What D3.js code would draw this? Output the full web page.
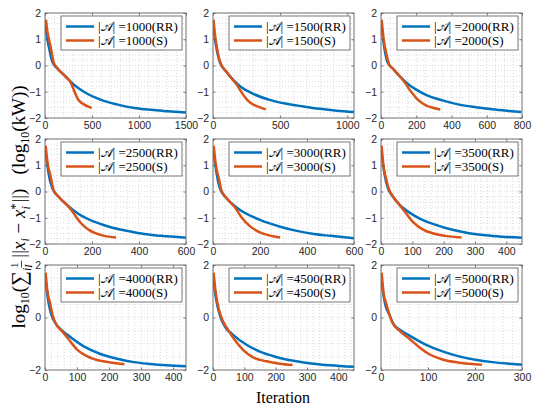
<!DOCTYPE html>
<html><head><meta charset="utf-8">
<script src="https://cdn.jsdelivr.net/npm/d3@7"></script>
<style>
body{margin:0;background:#fff;}
svg{display:block;}
</style></head>
<body>
<svg id="chart" width="550" height="412"></svg>
<script>
// ---- data ----
const sizes = [1000, 1500, 2000, 2500, 3000, 3500, 4000, 4500, 5000];
const xMax = [1500, 1050, 800, 600, 600, 450, 440, 450, 300];
const xTicks = [
  [0, 500, 1000, 1500], [0, 500, 1000], [0, 200, 400, 600, 800],
  [0, 200, 400, 600], [0, 200, 400, 600], [0, 100, 200, 300, 400],
  [0, 100, 200, 300, 400], [0, 100, 200, 300, 400], [0, 100, 200, 300]
];
const xMinorStep = [100, 100, 50, 50, 50, 20, 20, 20, 20];
const yTicksTop = [-2, -1, 0, 1, 2];
const yTicksBottom = [-2, 0, 2];
const seriesNames = ["RR", "S"];

const rr1000 = [[0,1.65],[25,1.0],[50,0.55],[80,0.12],[135,-0.12],[190,-0.32],[241,-0.5],[294,-0.69],[418,-1.01],[596,-1.31],[773,-1.49],[950,-1.62],[1128,-1.69],[1305,-1.74],[1500,-1.79]];
const s1000  = [[10,1.75],[25,1.3],[45,0.95],[70,0.52],[90,0.14],[135,-0.12],[190,-0.32],[241,-0.5],[270,-0.63],[294,-0.82],[320,-1.05],[348,-1.27],[380,-1.4],[418,-1.49],[460,-1.57],[496,-1.62]];
const rr1500 = [[0,1.65],[15,1.0],[30,0.55],[50,0.14],[100,-0.24],[150,-0.55],[199,-0.78],[299,-1.08],[423,-1.31],[548,-1.46],[672,-1.56],[797,-1.65],[921,-1.72],[1050,-1.77]];
const s1500  = [[5,1.74],[12,1.3],[20,0.97],[32,0.6],[45,0.27],[62,0.03],[100,-0.24],[150,-0.56],[175,-0.72],[200,-0.92],[225,-1.12],[250,-1.28],[274,-1.4],[305,-1.5],[336,-1.57],[393,-1.67]];
const rr2000 = [[0,1.65],[12,1.0],[22,0.55],[36,0.14],[70,-0.14],[105,-0.4],[135,-0.6],[162,-0.75],[200,-0.92],[255,-1.12],[349,-1.33],[443,-1.49],[537,-1.59],[631,-1.67],[725,-1.73],[796,-1.77]];
const s2000  = [[4,1.74],[15,1.0],[30,0.46],[45,0.06],[70,-0.14],[105,-0.4],[125,-0.56],[143,-0.72],[160,-0.9],[180,-1.08],[200,-1.24],[227,-1.4],[255,-1.52],[284,-1.59],[336,-1.68]];
const rr2500 = [[0,1.65],[10,1.0],[18,0.55],[31,0.13],[60,-0.22],[95,-0.52],[138,-0.83],[209,-1.15],[280,-1.36],[351,-1.5],[422,-1.62],[493,-1.69],[600,-1.76]];
const s2500  = [[3,1.75],[10,1.15],[24,0.57],[36,0.06],[60,-0.22],[95,-0.53],[115,-0.74],[131,-0.95],[150,-1.17],[166,-1.32],[190,-1.48],[209,-1.57],[252,-1.69],[302,-1.75]];
const rr3000 = [[0,1.65],[10,1.0],[18,0.55],[29,0.13],[57,-0.25],[93,-0.56],[129,-0.78],[200,-1.08],[286,-1.34],[357,-1.5],[429,-1.62],[500,-1.69],[600,-1.78]];
const s3000  = [[3,1.75],[11,1.08],[26,0.45],[36,0.04],[57,-0.25],[93,-0.6],[121,-0.98],[157,-1.32],[200,-1.56],[243,-1.68],[286,-1.75]];
const rr3500 = [[0,1.65],[7,1.0],[13,0.55],[22,0.13],[38,-0.19],[59,-0.5],[70,-0.62],[122,-1.02],[175,-1.27],[228,-1.46],[281,-1.59],[334,-1.67],[386,-1.72],[450,-1.76]];
const s3500  = [[2,1.75],[8,0.96],[17,0.45],[25,0.1],[38,-0.19],[59,-0.51],[80,-0.83],[101,-1.15],[133,-1.44],[165,-1.59],[205,-1.69],[257,-1.75]];
const rr4000 = [[0,1.6],[6,1.0],[12,0.5],[20,0.1],[33,-0.22],[54,-0.5],[70,-0.66],[121,-1.1],[173,-1.39],[225,-1.57],[277,-1.7],[329,-1.77],[381,-1.82],[440,-1.86]];
const s4000  = [[2,1.71],[7,1.05],[16,0.54],[23,0.12],[33,-0.22],[54,-0.53],[75,-0.85],[101,-1.23],[132,-1.48],[173,-1.65],[215,-1.73],[248,-1.78]];
const rr4500 = [[0,1.6],[6,1.0],[13,0.5],[23,0.04],[40,-0.38],[64,-0.66],[107,-1.04],[160,-1.35],[213,-1.54],[266,-1.67],[320,-1.76],[373,-1.82],[450,-1.88]];
const s4500  = [[2,1.71],[9,0.92],[19,0.29],[30,-0.09],[48,-0.47],[69,-0.85],[96,-1.23],[128,-1.52],[171,-1.67],[213,-1.76],[254,-1.81]];
const rr5000 = [[0,1.6],[4,1.0],[9,0.5],[18,0.1],[25,-0.2],[39,-0.46],[54,-0.62],[96,-1.04],[131,-1.29],[166,-1.48],[201,-1.61],[237,-1.7],[272,-1.76],[300,-1.8]];
const s5000  = [[1.4,1.71],[5.6,0.92],[11,0.54],[17,0.16],[25,-0.22],[39,-0.5],[61,-0.82],[82,-1.14],[103,-1.4],[131,-1.6],[166,-1.72],[215,-1.8]];

const rrData = [rr1000, rr1500, rr2000, rr2500, rr3000, rr3500, rr4000, rr4500, rr5000];
const sData  = [s1000, s1500, s2000, s2500, s3000, s3500, s4000, s4500, s5000];

// ---- layout ----
const colLeft = [45, 213, 381];
const rowTop = [13, 139, 265];
const plotW = 141, plotH = 105;
const colors = ["#0072BD", "#D95319"];
const svg = d3.select("#chart");
const tickFont = "'Liberation Sans', Arial, sans-serif";
const serif = "'Liberation Serif', 'Times New Roman', serif";

sizes.forEach((sz, k) => {
  const r = Math.floor(k / 3), c = k % 3;
  const left = colLeft[c], top = rowTop[r];
  const g = svg.append("g").attr("transform", `translate(${left},${top})`);
  const x = d3.scaleLinear().domain([0, xMax[k]]).range([0, plotW]);
  const y = d3.scaleLinear().domain([-2, 2]).range([plotH, 0]);
  const yt = r < 2 ? yTicksTop : yTicksBottom;
  const yMinor = r < 2 ? 0.2 : 0.5;

  g.append("rect").attr("width", plotW).attr("height", plotH).attr("fill", "#fff");

  // minor grid (dotted)
  const xm = d3.range(xMinorStep[k], xMax[k], xMinorStep[k]);
  const ym = d3.range(-2 + yMinor, 2 - 1e-9, yMinor);
  g.append("g").selectAll("line").data(xm).join("line")
    .attr("x1", d => x(d)).attr("x2", d => x(d)).attr("y1", 0).attr("y2", plotH)
    .attr("stroke", "#c4c4c4").attr("stroke-width", 0.6).attr("stroke-dasharray", "1,2");
  g.append("g").selectAll("line").data(ym).join("line")
    .attr("y1", d => y(d)).attr("y2", d => y(d)).attr("x1", 0).attr("x2", plotW)
    .attr("stroke", "#c4c4c4").attr("stroke-width", 0.6).attr("stroke-dasharray", "1,2");

  // lines
  const line = d3.line().x(d => x(d[0])).y(d => y(d[1])).curve(d3.curveMonotoneX);
  const clipId = "clip" + k;
  g.append("clipPath").attr("id", clipId).append("rect").attr("width", plotW).attr("height", plotH);
  const lg = g.append("g").attr("clip-path", `url(#${clipId})`);
  [rrData[k], sData[k]].forEach((d, i) => {
    lg.append("path").datum(d).attr("d", line).attr("fill", "none")
      .attr("stroke", colors[i]).attr("stroke-width", 2.5).attr("stroke-linejoin", "round");
  });

  // axes
  const xAx = d3.axisBottom(x).tickValues(xTicks[k]).tickSize(-2.5).tickPadding(4).tickFormat(d3.format("d"));
  const xAxTop = d3.axisTop(x).tickValues(xTicks[k]).tickSize(-2.5).tickFormat("");
  const yAx = d3.axisLeft(y).tickValues(yt).tickSize(-2.5).tickPadding(4).tickFormat(d3.format("d"));
  const yAxR = d3.axisRight(y).tickValues(yt).tickSize(-2.5).tickFormat("");
  const axes = [
    g.append("g").attr("transform", `translate(0,${plotH})`).call(xAx),
    g.append("g").call(xAxTop),
    g.append("g").call(yAx),
    g.append("g").attr("transform", `translate(${plotW},0)`).call(yAxR)
  ];
  axes.forEach(a => {
    a.select(".domain").remove();
    a.selectAll("line").attr("stroke", "#555").attr("stroke-width", 0.8);
    a.selectAll("text").attr("fill", "#262626").attr("font-family", tickFont).attr("font-size", 10.5);
  });
  g.append("rect").attr("width", plotW).attr("height", plotH)
    .attr("fill", "none").attr("stroke", "#6e6e6e").attr("stroke-width", 1);

  // legend
  const lx = 16, ly = 3, lw = 121, lh = 34;
  const leg = g.append("g").attr("transform", `translate(${lx},${ly})`);
  leg.append("rect").attr("width", lw).attr("height", lh).attr("fill", "#fff")
    .attr("stroke", "#555").attr("stroke-width", 0.8);
  seriesNames.forEach((nm, i) => {
    const yy = 10.5 + i * 14;
    leg.append("line").attr("x1", 5).attr("x2", 33).attr("y1", yy).attr("y2", yy)
      .attr("stroke", colors[i]).attr("stroke-width", 2.5);
    const t = leg.append("text").attr("x", 37).attr("y", yy + 4.5)
      .attr("font-family", serif).attr("font-size", 13).attr("fill", "#000");
    t.append("tspan").text("|");
    t.append("tspan").text("\uD835\uDC9C");
    t.append("tspan").text("| =" + sz + "(" + nm + ")");
  });
});

// x label
svg.append("text").attr("x", 283).attr("y", 403).attr("text-anchor", "middle")
  .attr("font-family", serif).attr("font-size", 16).attr("fill", "#000").text("Iteration");

// y label: pieces laid out along the rotated baseline
const fs = 19;
const pieces = [
  {t: "log"}, {t: "10", s: 12, dy: 4}, {t: "("}, {t: "\u2211", s: 21, dy: 1},
  {t: "i", s: 12, it: true, dy: 6},
  {frac: ["1", "I"]},
  {t: "||", gap: 1}, {t: "x", it: true}, {t: "i", s: 12, it: true, dy: 4},
  {t: " \u2212 "}, {t: "x", it: true}, {stack: ["*", "i"]},
  {t: "||)"}, {t: "   (log"}, {t: "10", s: 12, dy: 4}, {t: "(kW))"}
];
const ylg = svg.append("g");
const inner = ylg.append("g");
let cx = 0;
function addText(t, s, it, dx, dy) {
  const el = inner.append("text").attr("x", cx + (dx || 0)).attr("y", dy || 0)
    .attr("font-family", serif).attr("font-size", s).attr("fill", "#000")
    .attr("font-style", it ? "italic" : "normal")
    .style("white-space", "pre").text(t);
  return el.node().getComputedTextLength();
}
pieces.forEach(p => {
  if (p.frac) {
    const w1 = addText(p.frac[0], 10, false, 0, -7);
    const tmp = cx;
    const w2 = addText(p.frac[1], 10, true, 0, 7);
    const w = Math.max(w1, w2) + 2;
    inner.append("line").attr("x1", tmp).attr("x2", tmp + w).attr("y1", -3.5).attr("y2", -3.5)
      .attr("stroke", "#000").attr("stroke-width", 0.7);
    cx += w + 2;
  } else if (p.stack) {
    const w1 = addText(p.stack[0], 12, false, 0, -6);
    const w2 = addText(p.stack[1], 12, true, 0, 5);
    cx += Math.max(w1, w2) + 1;
  } else {
    cx += (p.gap || 0);
    cx += addText(p.t, p.s || fs, p.it, 0, p.dy || 0);
  }
});
const total = cx;
inner.attr("transform", `translate(${-total / 2},0)`);
ylg.attr("transform", "translate(25,207) rotate(-90)");
</script>
</body></html>
